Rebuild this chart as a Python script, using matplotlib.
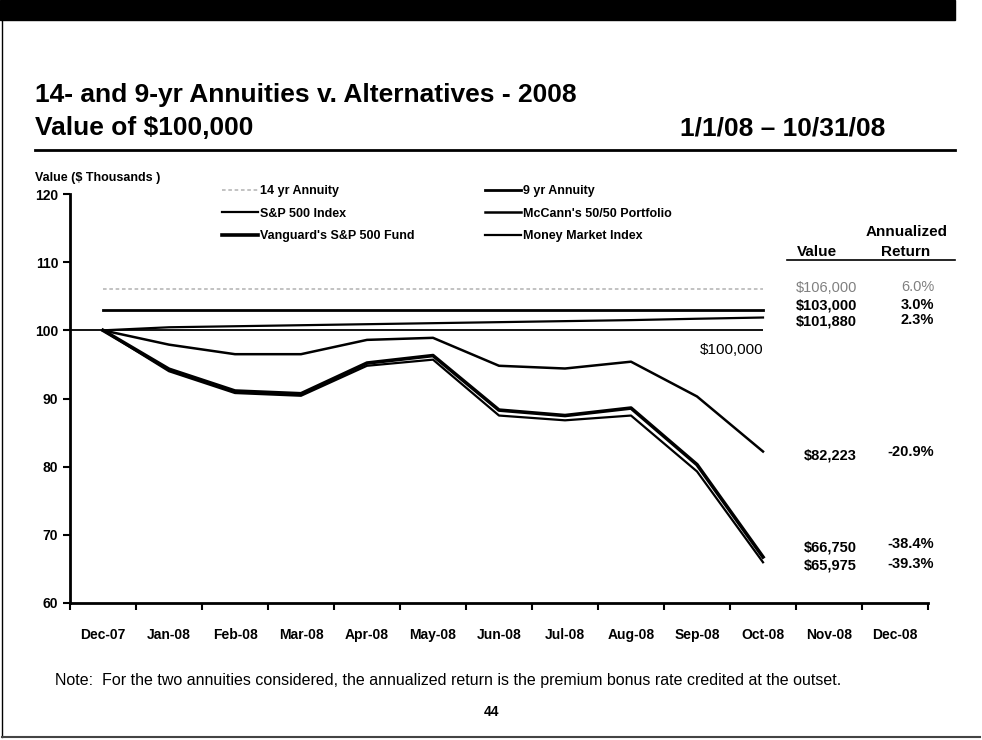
import numpy as np
import matplotlib
matplotlib.use('Agg')
import matplotlib.pyplot as plt
from matplotlib.lines import Line2D
from matplotlib.patches import Rectangle

plt.rcParams['font.family'] = ['Liberation Sans', 'DejaVu Sans']

# categories on the x axis
months = ['Dec-07', 'Jan-08', 'Feb-08', 'Mar-08', 'Apr-08', 'May-08', 'Jun-08',
          'Jul-08', 'Aug-08', 'Sep-08', 'Oct-08', 'Nov-08', 'Dec-08']

# values in $ thousands, Dec-07 .. Oct-08
annuity_14 = [106.0, 106.0, 106.0, 106.0, 106.0, 106.0, 106.0, 106.0, 106.0, 106.0, 106.0]
annuity_9 = [103.0, 103.0, 103.0, 103.0, 103.0, 103.0, 103.0, 103.0, 103.0, 103.0, 103.0]
money_market = [100.0, 100.45, 100.6, 100.75, 100.9, 101.05, 101.2, 101.35, 101.5, 101.7, 101.88]
mccann = [100.0, 97.9, 96.5, 96.5, 98.6, 98.9, 94.8, 94.4, 95.4, 90.3, 82.223]
vanguard = [100.0, 94.3, 91.1, 90.7, 95.2, 96.3, 88.3, 87.5, 88.6, 80.3, 66.75]
sp_index = [100.0, 94.0, 90.8, 90.4, 94.8, 95.7, 87.5, 86.8, 87.5, 79.3, 65.975]
baseline = 100.0

# right-hand table
end_values = ['$106,000', '$103,000', '$101,880', '$82,223', '$66,750', '$65,975']
ann_returns = ['6.0%', '3.0%', '2.3%', '-20.9%', '-38.4%', '-39.3%']

W, H = 982, 740


def fx(px):
    return px / W


def fy(py):
    return 1 - py / H


fig = plt.figure(figsize=(W / 100, H / 100), dpi=100)

# slide decorations
fig.patches.append(Rectangle((0, fy(20)), fx(955), 20 / H, transform=fig.transFigure,
                             color='black', zorder=0))
fig.add_artist(Line2D([fx(35), fx(955)], [fy(150), fy(150)], color='black', lw=2))
fig.add_artist(Line2D([fx(2), fx(2)], [fy(20), fy(737)], color='black', lw=1))
fig.add_artist(Line2D([fx(2), fx(980)], [fy(737), fy(737)], color='#444444', lw=1.5))

fig.text(fx(35), fy(95), '14- and 9-yr Annuities v. Alternatives - 2008',
         fontsize=19, fontweight='bold', va='center', ha='left')
fig.text(fx(35), fy(128), 'Value of $100,000', fontsize=19, fontweight='bold',
         va='center', ha='left')
fig.text(fx(885), fy(128), '1/1/08 \u2013 10/31/08', fontsize=19, fontweight='bold',
         va='center', ha='right')

top, bot = 194, 603
ax = fig.add_axes([fx(70), fy(bot), fx(928) - fx(70), (bot - top) / H])
x = np.arange(len(annuity_14))

l14, = ax.plot(x, annuity_14, color='#bdbdbd', lw=1.3, ls=(0, (2, 1.5)))
l9, = ax.plot(x, annuity_9, color='black', lw=2)
lmm, = ax.plot(x, money_market, color='black', lw=1.6)
ax.hlines(baseline, -0.5, x[-1], color='black', lw=1.3, clip_on=False)
lmc, = ax.plot(x, mccann, color='black', lw=1.8)
lvg, = ax.plot(x, vanguard, color='black', lw=2.6)
lsp, = ax.plot(x, sp_index, color='black', lw=1.6)

ax.set_xlim(-0.5, len(months) - 0.5)
ax.set_ylim(60, 120)
ax.set_yticks(np.arange(60, 121, 10))
ax.set_xticks(np.arange(-0.5, len(months), 1))
ax.set_xticklabels([])
ax.set_xticks(np.arange(len(months)), minor=True)
ax.set_xticklabels(months, minor=True, fontsize=10, fontweight='bold')
ax.tick_params(axis='x', which='major', direction='out', length=5, width=1.5)
ax.tick_params(axis='x', which='minor', length=0, pad=18)
ax.tick_params(axis='y', direction='out', length=5, width=1.5, labelsize=10)
for t in ax.get_yticklabels():
    t.set_fontweight('bold')
for s in ['top', 'right']:
    ax.spines[s].set_visible(False)
for s in ['left', 'bottom']:
    ax.spines[s].set_linewidth(2)

fig.text(fx(35), fy(178), 'Value ($ Thousands )', fontsize=9, fontweight='bold',
         ha='left', va='center')

handles = [l14, lsp, lvg, l9, lmc, lmm]
labels = ['14 yr Annuity', 'S&P 500 Index', "Vanguard's S&P 500 Fund",
          '9 yr Annuity', "McCann's 50/50 Portfolio", 'Money Market Index']
fig.legend(handles, labels, ncol=2, loc='upper left', bbox_to_anchor=(fx(217), fy(180)),
           frameon=False, prop={'size': 9, 'weight': 'bold'}, handlelength=2.85,
           handletextpad=0.2, columnspacing=5.65, labelspacing=0.85, borderaxespad=0)

# table on the right
fig.text(fx(907), fy(232), 'Annualized', fontsize=11, fontweight='bold', ha='center', va='center')
fig.text(fx(817), fy(252), 'Value', fontsize=11, fontweight='bold', ha='center', va='center')
fig.text(fx(906), fy(252), 'Return', fontsize=11, fontweight='bold', ha='center', va='center')
fig.add_artist(Line2D([fx(787), fx(955)], [fy(260), fy(260)], color='black', lw=1.2))

rows_y = [288, 306, 321, 456, 547, 565]
ret_y = [287, 305, 320, 452, 544, 564]
for i in range(len(end_values)):
    col = '#808080' if i == 0 else 'black'
    wt = 'normal' if i == 0 else 'bold'
    fig.text(fx(857), fy(rows_y[i]), end_values[i], fontsize=10.5, fontweight=wt, color=col,
             ha='right', va='center')
    fig.text(fx(934), fy(ret_y[i]), ann_returns[i], fontsize=10.5, fontweight=wt, color=col,
             ha='right', va='center')

fig.text(fx(763), fy(350), '$100,000', fontsize=11, ha='right', va='center')

fig.text(fx(55), fy(681), 'Note:  For the two annuities considered, the annualized return is '
         'the premium bonus rate credited at the outset.', fontsize=11.5, ha='left', va='center')
fig.text(fx(491), fy(712), '44', fontsize=10, fontweight='bold', ha='center', va='center')

fig.savefig('out.png', dpi=100)
